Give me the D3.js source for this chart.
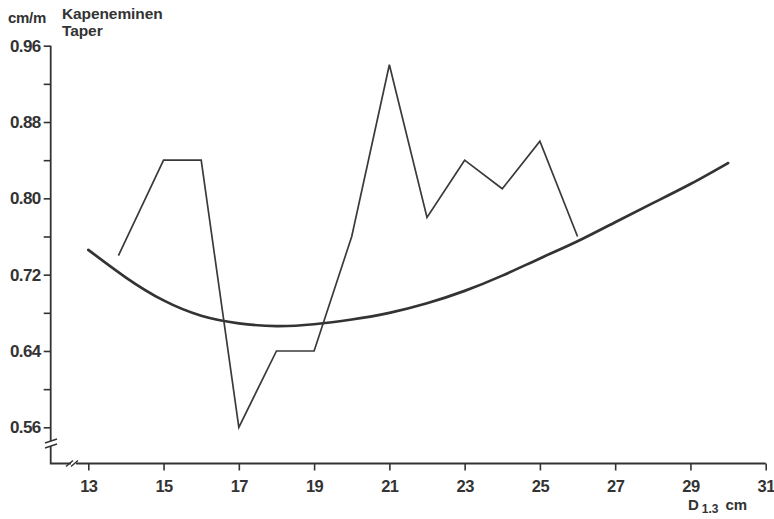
<!DOCTYPE html>
<html>
<head>
<meta charset="utf-8">
<script src="https://cdn.jsdelivr.net/npm/d3@7"></script>
<style>
  html, body { margin: 0; padding: 0; background: #fff; }
  svg { display: block; }
  text { font-family: "Liberation Sans", Arial, sans-serif; font-weight: bold; fill: #333; }
</style>
</head>
<body>
<svg id="chart" width="774" height="519"></svg>
<script>
// Stem diameter (cm) ticks and taper (cm/m) ticks
const xTicks = [13, 15, 17, 19, 21, 23, 25, 27, 29, 31];
const yMajorTicks = [0.56, 0.64, 0.72, 0.80, 0.88, 0.96];
const yMinorTicks = [0.60, 0.68, 0.76, 0.84, 0.92];

// Observed mean taper by diameter class
const taperD = [13.8, 15, 16, 17, 18, 19, 20, 21, 22, 23, 24, 25, 26];
const taperValues = [0.74, 0.84, 0.84, 0.56, 0.64, 0.64, 0.76, 0.94, 0.78, 0.84, 0.81, 0.86, 0.76];

// Smoothed taper curve
const fitD = [13, 14, 15, 16, 17, 18, 19, 20, 21, 22, 23, 24, 25, 26, 27, 28, 29, 30];
const fitValues = [0.746, 0.717, 0.693, 0.677, 0.669, 0.666, 0.668, 0.673, 0.680, 0.690, 0.703, 0.719, 0.737, 0.755, 0.775, 0.795, 0.815, 0.837];

const svg = d3.select("#chart");
const ink = "#333";

const x = d3.scaleLinear().domain([13, 31]).range([88.3, 765.7]);
const y = d3.scaleLinear().domain([0.56, 0.96]).range([427.3, 45.7]);

const axisX0 = 50.7;   // y-axis position
const axisY0 = 463.5;  // x-axis position

// Axis lines with scale breaks
const axisG = svg.append("g").attr("stroke", ink).attr("stroke-width", 1.8).attr("fill", "none");
axisG.append("path").attr("d", `M${axisX0},${y(0.96)}V441`);
axisG.append("path").attr("d", `M${axisX0},446V${axisY0}H71`);
axisG.append("path").attr("d", `M76,${axisY0}H${x(31)}`);
// break marks
axisG.append("path").attr("d", "M45,443L57,439M45,448L57,444").attr("stroke-width", 1.5);
axisG.append("path").attr("d", `M66,${axisY0 + 3}L73,${axisY0 - 3}M71,${axisY0 + 3}L78,${axisY0 - 3}`).attr("stroke-width", 1.5);

// Y ticks (major with labels, minor without)
const yAxis = d3.axisLeft(y)
  .tickValues(yMajorTicks.concat(yMinorTicks))
  .tickSize(7)
  .tickPadding(3)
  .tickFormat(d => yMajorTicks.some(v => Math.abs(v - d) < 1e-9) ? d3.format(".2f")(d) : "");
const gy = svg.append("g").attr("transform", `translate(${axisX0},0)`).call(yAxis);
gy.select(".domain").remove();
gy.selectAll(".tick line").attr("stroke", ink).attr("stroke-width", 1.6);
gy.selectAll(".tick text").attr("font-size", 17).attr("fill", ink)
  .attr("font-family", "'Liberation Sans', Arial, sans-serif").attr("font-weight", "bold")
  .attr("letter-spacing", "-0.6");

// X ticks
const xAxis = d3.axisBottom(x).tickValues(xTicks).tickSize(7).tickPadding(10).tickFormat(d3.format("d"));
const gx = svg.append("g").attr("transform", `translate(0,${axisY0})`).call(xAxis);
gx.select(".domain").remove();
gx.selectAll(".tick line").attr("stroke", ink).attr("stroke-width", 1.6);
gx.selectAll(".tick text").attr("font-size", 16.5).attr("fill", ink)
  .attr("font-family", "'Liberation Sans', Arial, sans-serif").attr("font-weight", "bold")
  .attr("letter-spacing", "-0.6");

// Smoothed curve
const fitLine = d3.line().x((d, i) => x(fitD[i])).y(d => y(d)).curve(d3.curveNatural);
svg.append("path").datum(fitValues).attr("d", fitLine)
  .attr("fill", "none").attr("stroke", ink).attr("stroke-width", 2.7)
  .attr("stroke-linecap", "round");

// Observed taper
const taperLine = d3.line().x((d, i) => x(taperD[i])).y(d => y(d));
svg.append("path").datum(taperValues).attr("d", taperLine)
  .attr("fill", "none").attr("stroke", "#3a3a3a").attr("stroke-width", 1.7)
  .attr("stroke-linejoin", "miter");

// Unit and title labels
svg.append("text").attr("x", 8).attr("y", 23).attr("font-size", 15).attr("letter-spacing", "-0.3").text("cm/m");
svg.append("text").attr("x", 62).attr("y", 19).attr("font-size", 15.5).attr("letter-spacing", "-0.1").text("Kapeneminen");
svg.append("text").attr("x", 62).attr("y", 36).attr("font-size", 15.5).attr("letter-spacing", "-0.1").text("Taper");

// X-axis title: D with subscript 1.3
const xt = svg.append("text").attr("x", 688).attr("y", 510).attr("font-size", 15);
xt.append("tspan").text("D");
xt.append("tspan").attr("dx", 3).attr("dy", 3).attr("font-size", 12).text("1.3");
xt.append("tspan").attr("dx", 7).attr("dy", -3).attr("font-size", 15).text("cm");
</script>
</body>
</html>
